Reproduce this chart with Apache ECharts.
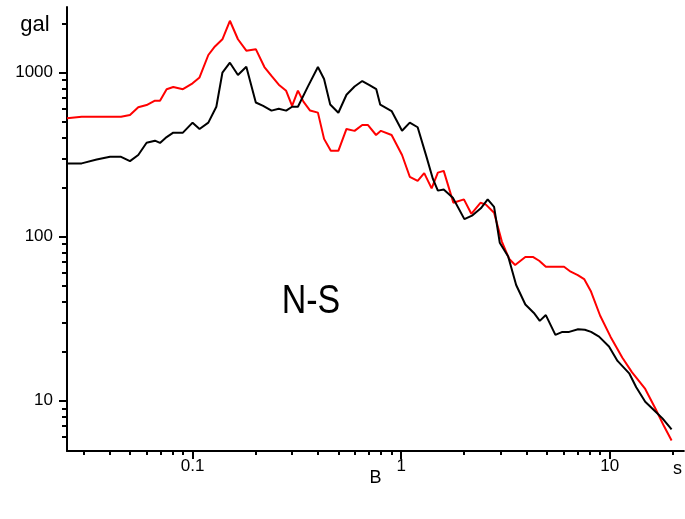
<!DOCTYPE html>
<html><head><meta charset="utf-8">
<script src="https://cdn.jsdelivr.net/npm/echarts@6/dist/echarts.min.js"></script>
<style>html,body{margin:0;padding:0;background:#fff}#c{width:685px;height:519px}</style>
</head><body><div id="c"></div>
<script>
// Period (s) and response (gal), black curve
const periodsBlack = [0.025,0.0294,0.0347,0.0402,0.0454,0.0501,0.0549,0.0602,0.066,0.0698,0.0751,0.0808,0.0899,0.1,0.108,0.119,0.130,0.139,0.151,0.165,0.181,0.201,0.218,0.239,0.259,0.281,0.300,0.320,0.357,0.399,0.427,0.457,0.500,0.547,0.598,0.651,0.705,0.760,0.794,0.90,1.01,1.10,1.20,1.32,1.42,1.50,1.60,1.77,2.01,2.20,2.41,2.60,2.79,2.97,3.26,3.56,3.94,4.33,4.62,4.94,5.49,5.93,6.39,7.05,7.6,8.14,8.89,9.92,10.9,12.4,13.4,14.8,16.6,17.9,19.8];
const valuesBlack = [280,280,296,307,307,289,315,374,385,373,405,431,431,496,454,496,620,1000,1151,968,1088,658,627,587,603,587,620,620,822,1083,915,640,570,734,824,890,841,793,638,584,443,496,465,310,225,191,194,173,128,135,149,169,152,92,75.7,50.8,38.6,34.3,30.7,33.3,25.2,26.3,26.3,27.3,27.1,26.3,24.6,21.4,17.5,14.7,12.1,9.86,8.57,7.81,6.69];
// red curve
const periodsRed = [0.025,0.0294,0.0347,0.0402,0.0454,0.0501,0.0549,0.0602,0.066,0.0698,0.0751,0.0808,0.0899,0.1,0.108,0.119,0.128,0.139,0.151,0.165,0.181,0.201,0.221,0.239,0.259,0.281,0.300,0.320,0.340,0.366,0.399,0.427,0.460,0.500,0.547,0.598,0.651,0.692,0.758,0.80,0.90,1.01,1.10,1.20,1.29,1.40,1.50,1.60,1.78,2.00,2.17,2.40,2.55,2.79,3.04,3.30,3.52,3.94,4.30,4.59,4.94,6.04,6.5,7.03,7.54,8.11,8.99,10.1,11.5,12.8,14.8,16.6,18.2,19.8];
const valuesRed = [527,539,539,539,539,552,615,635,675,675,793,818,793,862,935,1282,1445,1599,2073,1599,1362,1391,1083,955,845,776,627,777,666,588,571,395,334,334,454,442,480,480,417,442,417,315,232,219,244,197,246,252,161,169,138,161,157,140,93.5,73.1,67.2,75.2,75.2,71.4,65.6,65.6,61.2,58.4,55.2,46.7,33.1,24.5,18.3,14.9,11.8,8.9,7.01,5.72];

// tick labels
const xLabelValues = [0.1, 1, 10, 20];
const xLabelTexts = ['0.1', '1', '10', '{s|s}'];
const yLabelValues = [10, 100, 1000];
const yLabelTexts = ['10', '100', '1000'];
const xMajorTicks = [0.1, 1, 10];
const xMinorTicks = [0.03,0.04,0.05,0.06,0.07,0.08,0.09,0.2,0.3,0.4,0.5,0.6,0.7,0.8,0.9,2,3,4,5,6,7,8,9,20];
const yMajorTicks = [10, 100, 1000];
const yMinorTicks = [6,7,8,9,20,30,40,50,60,70,80,90,200,300,400,500,600,700,800,900,2000];
const X_MIN = 0.025, X_MAX = 22.68, Y_MIN = 4.94, Y_MAX = 2515;

const L = Math.log10;
const FONT = 'Liberation Sans, Arial, sans-serif';
const fmt = (vals, texts) => (v) => {
  let best = 0, d = Infinity;
  vals.forEach((u, i) => { const dd = Math.abs(L(u) - v); if (dd < d) { d = dd; best = i; } });
  return texts[best];
};
const black = '#000000', red = '#ff0000';

const chart = echarts.init(document.getElementById('c'), null, {renderer: 'canvas'});
const option = {
  animation: false,
  backgroundColor: '#ffffff',
  grid: {left: 67, right: 0, top: 7, bottom: 68},
  xAxis: [
    {
      type: 'value', min: L(X_MIN), max: L(X_MAX), position: 'bottom',
      axisLine: {show: true, onZero: false, lineStyle: {color: black, width: 2}},
      axisTick: {show: true, length: 4, lineStyle: {color: black, width: 2}, customValues: xMinorTicks.map(L)},
      axisLabel: {show: true, customValues: xLabelValues.map(L), formatter: fmt(xLabelValues, xLabelTexts),
        color: black, fontSize: 17, fontFamily: FONT, margin: 7,
        rich: {s: {fontSize: 18, fontFamily: FONT, color: black, padding: [2, 0, 0, 10]}}},
      splitLine: {show: false},
      name: 'B', nameLocation: 'middle', nameGap: 18, nameMoveOverlap: false,
      nameTextStyle: {color: black, fontSize: 18, fontFamily: FONT}
    },
    {
      type: 'value', min: L(X_MIN), max: L(X_MAX), position: 'bottom',
      axisLine: {show: false, onZero: false},
      axisTick: {show: true, length: 8, lineStyle: {color: black, width: 2}, customValues: xMajorTicks.map(L)},
      axisLabel: {show: false},
      splitLine: {show: false}
    }
  ],
  yAxis: [
    {
      type: 'value', min: L(Y_MIN), max: L(Y_MAX), position: 'left',
      axisLine: {show: true, onZero: false, lineStyle: {color: black, width: 2}},
      axisTick: {show: true, length: 5, lineStyle: {color: black, width: 2}, customValues: yMinorTicks.map(L)},
      axisLabel: {show: true, customValues: yLabelValues.map(L), formatter: fmt(yLabelValues, yLabelTexts),
        color: black, fontSize: 17, fontFamily: FONT, margin: 14},
      splitLine: {show: false}
    },
    {
      type: 'value', min: L(Y_MIN), max: L(Y_MAX), position: 'left',
      axisLine: {show: false, onZero: false},
      axisTick: {show: true, length: 8, lineStyle: {color: black, width: 2}, customValues: yMajorTicks.map(L)},
      axisLabel: {show: false},
      splitLine: {show: false}
    }
  ],
  series: [
    {
      type: 'line', xAxisIndex: 0, yAxisIndex: 0, showSymbol: false, z: 2,
      data: periodsRed.map((p, i) => [L(p), L(valuesRed[i])]),
      lineStyle: {color: red, width: 2}, itemStyle: {color: red}
    },
    {
      type: 'line', xAxisIndex: 0, yAxisIndex: 0, showSymbol: false, z: 3,
      data: periodsBlack.map((p, i) => [L(p), L(valuesBlack[i])]),
      lineStyle: {color: black, width: 2}, itemStyle: {color: black}
    }
  ],
  graphic: [
    {type: 'text', x: 35, y: 25, style: {text: 'gal', fill: black, fontSize: 22, fontFamily: FONT, align: 'center', verticalAlign: 'middle'}},
    {type: 'text', x: 311, y: 302, scaleX: 0.85, style: {text: 'N-S', fill: black, fontSize: 40, fontFamily: FONT, align: 'center', verticalAlign: 'middle'}}
  ]
};
chart.setOption(option);
</script>
</body></html>
